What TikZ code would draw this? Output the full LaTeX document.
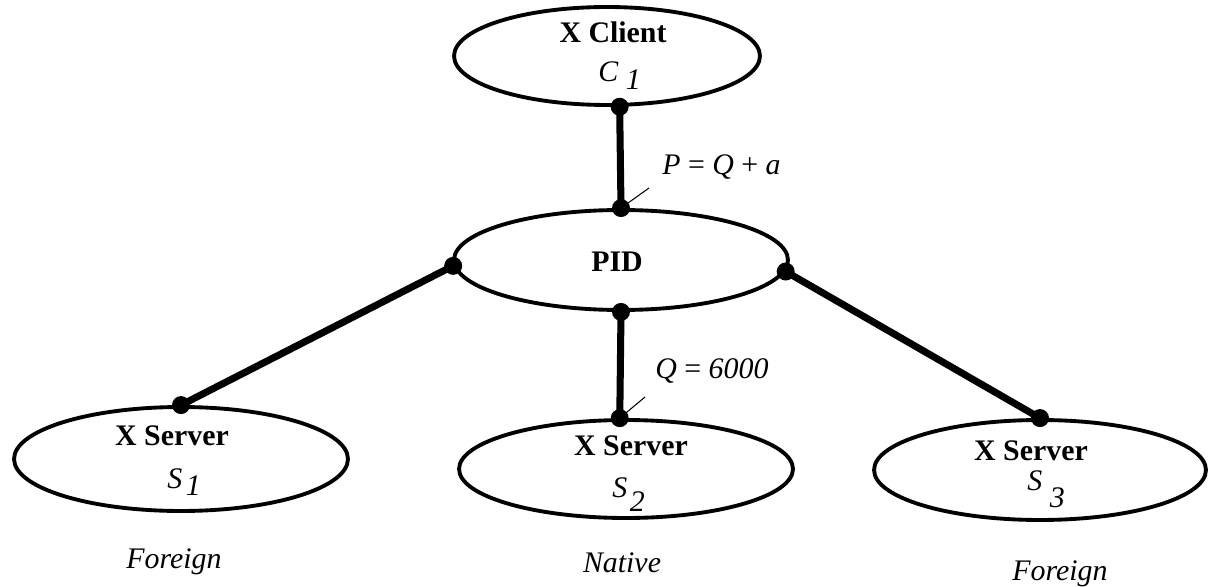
\documentclass[tikz,border=0pt]{standalone}
\usepackage{fontspec}
\setmainfont{Liberation Serif}
\usetikzlibrary{shapes.geometric}

\begin{document}
\begin{tikzpicture}[x=0.02cm, y=-0.02cm,
    proc/.style={draw, ellipse, line width=2.2pt, inner sep=0pt},
    link/.style={line width=4pt},
    lead/.style={line width=0.6pt},
    boldtxt/.style={inner sep=0pt, anchor=base, font=\fontsize{17}{20}\selectfont\bfseries},
    itxt/.style={inner sep=0pt, anchor=base, font=\fontsize{17}{20}\selectfont\itshape},
    itxtw/.style={itxt, anchor=base west}]
    \useasboundingbox (0,0) rectangle (1209,587);

    % processes
    \node[proc, minimum width=6.12cm, minimum height=1.96cm] (XC)  at (607,56)  {};
    \node[proc, minimum width=6.68cm, minimum height=2cm]    (PID) at (621,260) {};
    \node[proc, minimum width=6.68cm, minimum height=2.08cm] (S1)  at (181,459) {};
    \node[proc, minimum width=6.68cm, minimum height=1.96cm] (S2)  at (626,469) {};
    \node[proc, minimum width=6.64cm, minimum height=2cm]    (S3)  at (1040,470) {};

    % texts
    \node[boldtxt] (XCt)  at (613,43)  {X Client};
    \node[itxtw]   (XCs)  at (598,82)  {C \raisebox{-4.5pt}{1}};
    \node[boldtxt] (PIDt) at (617,272) {PID};
    \node[boldtxt] (S1t)  at (172,445) {X Server};
    \node[itxtw]   (S1s)  at (167,488) {S\kern2pt\raisebox{-4pt}{1}};
    \node[boldtxt] (S2t)  at (631,455) {X Server};
    \node[itxtw]   (S2s)  at (612,497) {S\kern1.5pt\raisebox{-8.5pt}{2}};
    \node[boldtxt] (S3t)  at (1031,460) {X Server};
    \node[itxtw]   (S3s)  at (1027,490) {S \raisebox{-10pt}{3}};
    \node[itxt]    (F1)   at (174,568) {Foreign};
    \node[itxt]    (N2)   at (622,572) {Native};
    \node[itxt]    (F3)   at (1060,580) {Foreign};

    % links
    \path (XC.-76)   edge[link] (PID.north)
          (PID.182)  edge[link] (S1.north)
          (PID.south) edge[link] (S2.97)
          (PID.356)  edge[link] (S3.north);
    \foreach \p in {XC.-76, PID.north, PID.182, PID.south, PID.356, S1.north, S2.97, S3.north}
        \fill (\p) circle (9);

    % port labels
    \coordinate (Pend) at (649,188);
    \coordinate (Qend) at (645,397);
    \draw[lead] (PID.north) -- (Pend);
    \draw[lead] (S2.97) -- (Qend);
    \node[itxtw] (Plbl) at (662,175) {P \textup{=} Q \textup{+} a};
    \node[itxtw] (Qlbl) at (655,378) {Q \textup{=} 6000};
\end{tikzpicture}
\end{document}
